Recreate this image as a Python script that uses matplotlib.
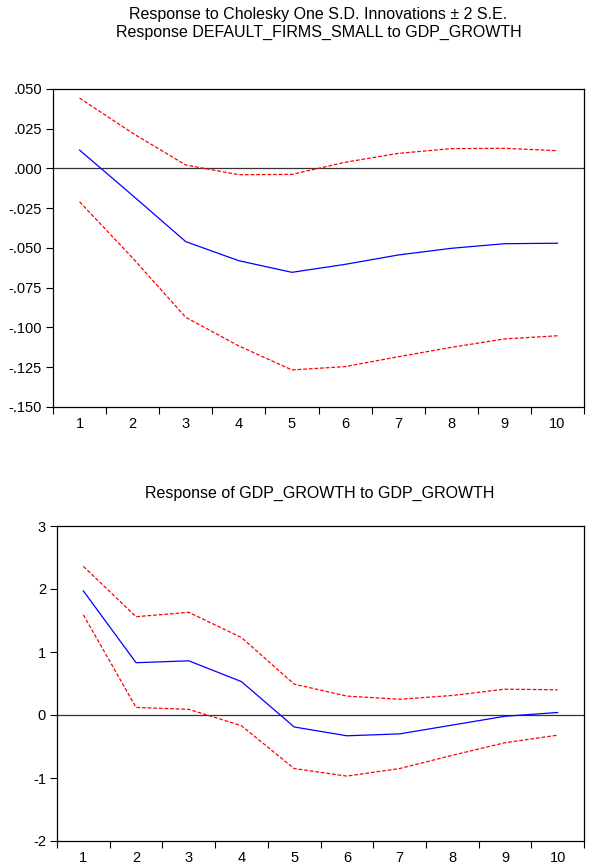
import numpy as np
import matplotlib
matplotlib.use("Agg")
import matplotlib.pyplot as plt
from matplotlib.ticker import FixedLocator, FuncFormatter

plt.rcParams['font.family'] = ['Liberation Sans', 'DejaVu Sans']

periods = np.arange(1, 11)

# Response DEFAULT_FIRMS_SMALL to GDP_GROWTH
firms_resp = [0.0116, -0.017, -0.046, -0.058, -0.0653, -0.0603, -0.0544, -0.0502, -0.0473, -0.047]
firms_upper = [0.0443, 0.0222, 0.0022, -0.0039, -0.0037, 0.0039, 0.0095, 0.0125, 0.0127, 0.0112]
firms_lower = [-0.0209, -0.0563, -0.0936, -0.1116, -0.1267, -0.1246, -0.1184, -0.1125, -0.1072, -0.1052]

# Response of GDP_GROWTH to GDP_GROWTH
gdp_resp = [1.97, 0.83, 0.86, 0.53, -0.19, -0.33, -0.30, -0.16, -0.02, 0.04]
gdp_upper = [2.36, 1.56, 1.63, 1.23, 0.49, 0.30, 0.25, 0.31, 0.41, 0.40]
gdp_lower = [1.59, 0.12, 0.09, -0.17, -0.85, -0.97, -0.85, -0.64, -0.44, -0.32]

W, H = 589, 867
fig = plt.figure(figsize=(W / 100, H / 100), dpi=100)


def px_axes(x0, y0, x1, y1):
    return fig.add_axes([x0 / W, 1 - y1 / H, (x1 - x0) / W, (y1 - y0) / H])


def irf_panel(ax, resp, upper, lower, ylim, yticks, fmt):
    ax.axhline(0, color='#333333', lw=0.9, zorder=1)
    ax.plot(periods, resp, color='#0000ff', lw=0.9, zorder=3)
    ax.plot(periods, upper, color='#ff0000', lw=0.9, ls=(0, (3, 1.5)), zorder=2)
    ax.plot(periods, lower, color='#ff0000', lw=0.9, ls=(0, (3, 1.5)), zorder=2)
    ax.set_xlim(0.5, 10.5)
    ax.set_ylim(*ylim)
    ax.set_yticks(yticks)
    ax.yaxis.set_major_formatter(FuncFormatter(fmt))
    # tick marks between periods, labels at the period centres
    ax.xaxis.set_major_locator(FixedLocator(np.arange(0.5, 11, 1)))
    ax.xaxis.set_major_formatter(FuncFormatter(lambda v, p: ''))
    ax.xaxis.set_minor_locator(FixedLocator(periods))
    ax.xaxis.set_minor_formatter(FuncFormatter(lambda v, p: '%d' % v))
    ax.tick_params(axis='x', which='major', direction='out', length=5, width=0.8)
    ax.tick_params(axis='x', which='minor', length=0, pad=7, labelsize=10.5)
    ax.tick_params(axis='y', direction='out', length=5, width=0.8, labelsize=10.5, pad=3)
    for s in ax.spines.values():
        s.set_linewidth(0.9)


def dec_fmt(v, p):
    s = '%.3f' % v
    s = s.replace('0.', '.', 1)
    if s == '-.000':
        s = '.000'
    return s


ax1 = px_axes(53, 89, 584, 407)
irf_panel(ax1, firms_resp, firms_upper, firms_lower, (-0.150, 0.050),
          np.arange(-0.150, 0.0501, 0.025), dec_fmt)

ax2 = px_axes(57, 526, 584, 841)
irf_panel(ax2, gdp_resp, gdp_upper, gdp_lower, (-2, 3),
          np.arange(-2, 4, 1), lambda v, p: '%d' % v)

fig.text(318.5 / W, 1 - 19.5 / H, 'Response to Cholesky One S.D. Innovations \u00b1 2 S.E.',
         ha='center', va='baseline', fontsize=11.5)
fig.text(318.5 / W, 1 - 36.5 / H, 'Response DEFAULT_FIRMS_SMALL to GDP_GROWTH',
         ha='center', va='baseline', fontsize=11.5)
fig.text(320 / W, 1 - 497.5 / H, 'Response of GDP_GROWTH to GDP_GROWTH',
         ha='center', va='baseline', fontsize=11.5)

fig.savefig('out.png', dpi=100)
